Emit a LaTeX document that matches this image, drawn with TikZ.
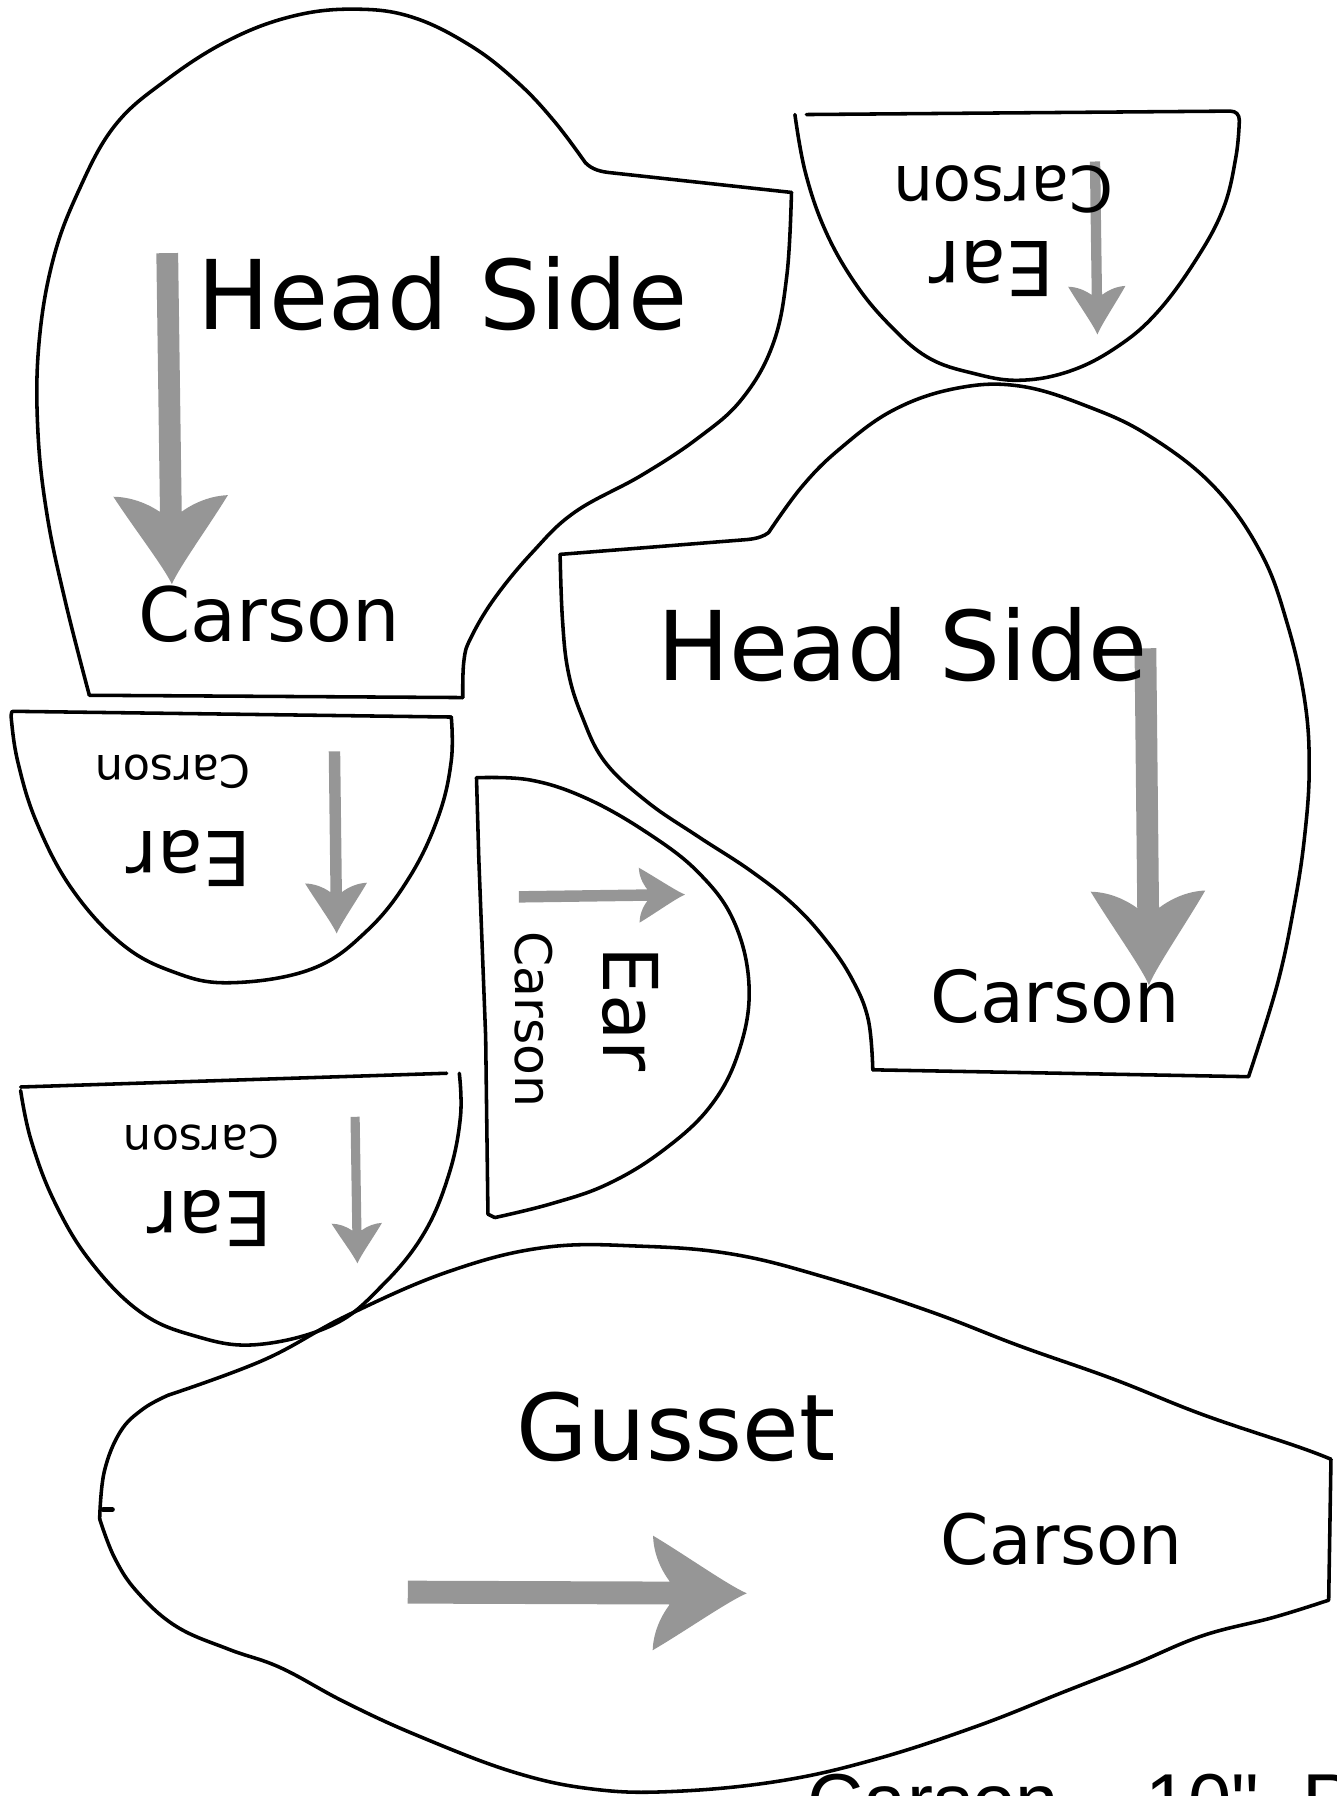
\documentclass[tikz,border=0pt]{standalone}
\usepackage{fontspec}
\setmainfont{DejaVu Sans}
\newfontfamily\capfont{Liberation Sans}
\tikzset{
  pic outline/.style={draw=black,line width=3.1pt,line cap=round,line join=round},
  soft/.style={smooth,tension=.65},
  label text/.style={inner sep=0pt,anchor=base,text=black},
  arrow fill/.style={fill=black!41,draw=none}
}
% start x, start y, length, canvas angle, shaft width, head half width, head length
\newcommand{\patarrow}[7]{%
  \begin{scope}[shift={(#1,#2)},rotate=#4]
    \fill[arrow fill] (0,-#5/2) -- (#3-0.82*#7,-#5/2)
      .. controls (#3-0.93*#7,-#5/2-0.3*#6+0.15*#5) and (#3-0.995*#7,-#6*0.72) .. (#3-#7,-#6)
      .. controls (#3-0.65*#7,-#6*0.66) and (#3-0.2*#7,-#6*0.14) .. (#3,0)
      .. controls (#3-0.2*#7,#6*0.14) and (#3-0.65*#7,#6*0.66) .. (#3-#7,#6)
      .. controls (#3-0.995*#7,#6*0.72) and (#3-0.93*#7,#5/2+0.3*#6-0.15*#5) .. (#3-0.82*#7,#5/2)
      -- (0,#5/2) -- cycle;
  \end{scope}}
\newcommand{\txt}[1]{\fontsize{#1}{#1}\selectfont}
\begin{document}
\begin{tikzpicture}[x=1pt,y=-1pt]
\useasboundingbox (0,0) rectangle (1167,1568);
% Head side 1
\draw[pic outline] plot[soft] coordinates {(78,607) (57,525) (41,449) (33,375) (34,300) (46,228) (68,168) (100,110) (145,70) (200,35) (256,14) (310,8) (360,15) (411,40) (452,72) (484,106) (511,142)};
\draw[pic outline] (511,142) .. controls (517,148) and (524,150) .. (535,151) -- (691,168);
\draw[pic outline] plot[soft] coordinates {(691,168) (687,240) (675,300) (648,348) (610,382) (560,415) (502,447) (465,482) (432,522) (411,557) (405,577) (404,609)};
\draw[pic outline] (404,609) -- (78,607);
% Head side 2
\draw[pic outline] (489,484) -- (653,471) .. controls (662,470) and (667,468) .. (671,465);
\draw[pic outline] plot[soft] coordinates {(671,465) (700,425) (733,392) (780,358) (835,339) (890,337) (950,355) (1004,381) (1060,425) (1101,483) (1124,545) (1139,611) (1143,670) (1139,730) (1130,790) (1115,860) (1090,940)};
\draw[pic outline] (1090,940) -- (762,934);
\draw[pic outline] plot[soft] coordinates {(762,934) (758,890) (744,855) (722,822) (693,790) (655,760) (609,730) (565,700) (528,665) (508,625) (496,586) (491,540) (489,484)};
% Ear top right
\draw[pic outline] (704,100) -- (1074,97) .. controls (1079,97) and (1082,100) .. (1082,105);
\draw[pic outline] plot[soft] coordinates {(1082,105) (1079,137) (1068,182) (1044,227) (1010,273) (975,303) (934,324) (890,332) (850,326) (810,312) (775,282) (745,245) (720,200) (703,150) (694,100)};
% Ear left 1
\draw[pic outline] (11,621) -- (394,626);
\draw[pic outline] plot[soft] coordinates {(394,626) (394,664) (383,712) (358,765) (321,812) (272,846) (200,858) (150,848) (105,823) (62,775) (32,718) (16,667) (10,629) (11,621)};
% Ear left 2
\draw[pic outline] (18,949) -- (390,937);
\draw[pic outline] plot[soft] coordinates {(401,937) (402,975) (392,1025) (370,1077) (334,1122) (290,1157) (223,1174) (169,1166) (122,1145) (78,1100) (47,1048) (27,995) (18,952)};
% Ear middle
\draw[pic outline] plot[soft] coordinates {(416,679) (463,681) (512,697) (565,727) (610,762) (641,805) (654,862) (645,918) (620,966) (578,1005) (530,1034) (481,1051) (432,1063)};
\draw[pic outline] (432,1063) -- (426,1060) -- (424,905) -- (418,749) -- (416,679);
% Gusset
\draw[pic outline] plot[soft] coordinates {(87,1326) (91,1285) (105,1250) (125,1230) (147,1218)};
\draw[pic outline] plot[soft] coordinates {(147,1218) (231,1187) (304,1148) (392,1110) (476,1089) (560,1088) (640,1095) (720,1115) (812,1145) (890,1175) (972,1204) (1050,1235) (1133,1263) (1162,1274)};
\draw[pic outline] (1162,1274) -- (1160,1397);
\draw[pic outline] plot[soft] coordinates {(1160,1397) (1112,1412) (1050,1428) (990,1453) (929,1477) (853,1507) (764,1536) (680,1555) (588,1564) (518,1562) (448,1547) (364,1515) (301,1486) (245,1456) (200,1440) (154,1420) (120,1390) (100,1360) (87,1326)};
\draw[pic outline,line width=4.5pt] (90,1318) -- (98,1318);
% Arrows
\patarrow{146}{221}{289}{-89.2}{19}{50}{77}
\patarrow{1000}{566}{294}{-89.4}{19}{50}{82}
\patarrow{956}{141}{151}{-89.2}{9}{25}{42}
\patarrow{292}{656}{159}{-89.3}{10}{27}{44}
\patarrow{310}{975}{128}{-89.1}{8}{22}{35}
\patarrow{453}{783}{145}{0.8}{10}{24}{40}
\patarrow{356}{1390}{296}{-0.2}{20}{50}{82}
% Labels
\node[label text] (hs1) at (386,288) {\txt{84}Head Side};
\node[label text] (hs2) at (788,594) {\txt{84}Head Side};
\node[label text] (c1) at (235,560) {\txt{65.5}Carson};
\node[label text] (c2) at (921,893) {\txt{62.5}Carson};
\node[label text] (g) at (590,1275) {\txt{80.5}Gusset};
\node[label text] (c3) at (927,1366) {\txt{60.5}Carson};
\node[label text,rotate=180] (e1) at (866,211) {\txt{66}Ear};
\node[label text,rotate=180] (c4) at (876,145) {\txt{55}Carson};
\node[label text,rotate=180] (e2) at (165,726) {\txt{66}Ear};
\node[label text,rotate=180] (c5) at (151,660) {\txt{39}Carson};
\node[label text,rotate=180] (e3) at (183,1040) {\txt{66}Ear};
\node[label text,rotate=180] (c6) at (176,983) {\txt{39}Carson};
\node[label text,rotate=-90] (e4) at (527,881) {\txt{66}Ear};
\node[label text,rotate=-90] (c7) at (450,890) {\txt{44}Carson};
\node[inner sep=0pt,anchor=base west,text=black] (cap) at (705,1596) {\capfont\txt{68}Carson – 10" \hspace{19pt}P};
\end{tikzpicture}
\end{document}
